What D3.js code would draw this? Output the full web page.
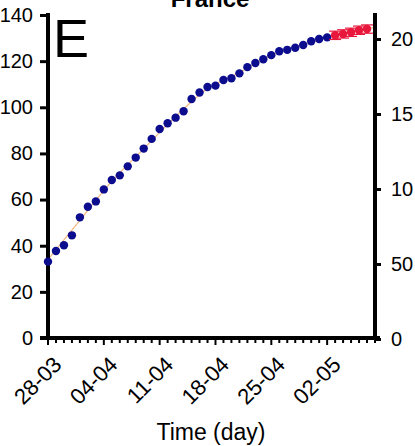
<!DOCTYPE html>
<html>
<head>
<meta charset="utf-8">
<script src="https://cdn.jsdelivr.net/npm/d3@7"></script>
<style>
  body { margin: 0; background: #fff; }
  svg { display: block; font-family: "Liberation Sans", Arial, sans-serif; }
  .axis path, .axis line { stroke: #000; }
  .axis text { fill: #000; font-size: 20px; }
</style>
</head>
<body>
<svg id="plot" width="415" height="446"></svg>
<script>
// observed cases (blue), one per day from 28-03
var obsDays = [0,1,2,3,4,5,6,7,8,9,10,11,12,13,14,15,16,17,18,19,20,21,22,23,24,25,26,27,28,29,30,31,32,33,34,35];
var obsValues = [33.1,37.7,40.2,44.5,52.3,56.9,59.2,64.4,68.5,70.5,74.4,78.2,82.1,86.3,90.6,93.1,95.5,98.3,103.6,106.4,108.8,109.4,111.8,112.6,114.7,117.4,119.2,120.8,122.6,124.3,124.9,125.8,127.0,128.6,129.6,130.3];
// predicted (red) with error
var predDays = [36,37,38,39,40];
var predValues = [131.2,131.8,132.5,133.4,133.9];
var predErr = [1.8,1.8,1.8,1.8,1.8];
// fitted curve (orange)
var fitDays = [0,4,8,12,16,20,24,28,32,36,41];
var fitValues = [34,51,68,82,96,108,115,122.5,127.2,131.2,134.6];
// ticks
var leftTicks = [0,20,40,60,80,100,120,140];
var rightTicks = [0,5,10,15,20];
var rightLabels = ['0','50','10','15','20'];
var majorDays = [0,7,14,21,28,35];
var majorLabels = ['28-03','04-04','11-04','18-04','25-04','02-05'];

var svg = d3.select('#plot');
var x = d3.scaleLinear().domain([0, 41]).range([48, 375]);
var y = d3.scaleLinear().domain([0, 140]).range([338, 15]);
var y2 = d3.scaleLinear().domain([0, 20]).range([339, 39]);

// fit line
svg.append('path')
    .datum(fitDays.map(function(d, i) { return [d, fitValues[i]]; }))
    .attr('d', d3.line().x(function(d) { return x(d[0]); }).y(function(d) { return y(d[1]); }).curve(d3.curveMonotoneX))
    .attr('fill', 'none').attr('stroke', '#f4a460').attr('stroke-width', 1.2).attr('opacity', 0.8);

// left axis
var gl = svg.append('g').attr('class', 'axis').attr('transform', 'translate(48,0)')
    .call(d3.axisLeft(y).tickValues(leftTicks).tickSize(8).tickPadding(7).tickSizeOuter(0));
gl.select('.domain').remove();
gl.selectAll('line').attr('stroke-width', 3);
svg.append('line').attr('x1', 48).attr('x2', 48).attr('y1', 13).attr('y2', 340)
    .attr('stroke', '#000').attr('stroke-width', 4);

// right axis
var gr = svg.append('g').attr('class', 'axis').attr('transform', 'translate(375,0)')
    .call(d3.axisRight(y2).tickValues(rightTicks).tickSize(6).tickPadding(10).tickSizeOuter(0)
        .tickFormat(function(d, i) { return rightLabels[i]; }));
gr.select('.domain').remove();
gr.selectAll('line').attr('stroke-width', 3);
svg.append('line').attr('x1', 375).attr('x2', 375).attr('y1', 13).attr('y2', 340)
    .attr('stroke', '#000').attr('stroke-width', 4);

// x axis
var allDays = d3.range(0, 42);
var gx = svg.append('g').attr('class', 'axis').attr('transform', 'translate(0,338)');
gx.selectAll('line.tick').data(allDays).enter().append('line')
    .attr('x1', function(d) { return x(d); }).attr('x2', function(d) { return x(d); })
    .attr('y1', 0).attr('y2', function(d) { return d % 7 === 0 ? 7 : 5; })
    .attr('stroke', '#000').attr('stroke-width', 2);
gx.append('line').attr('x1', 40).attr('x2', 380).attr('y1', 0).attr('y2', 0)
    .attr('stroke', '#000').attr('stroke-width', 4);
gx.selectAll('text').data(majorDays).enter().append('text')
    .attr('transform', function(d) { return 'translate(' + (x(d) + 15) + ',28) rotate(-45)'; })
    .attr('text-anchor', 'end')
    .style('font-size', '22px')
    .text(function(d, i) { return majorLabels[i]; });

// observed dots
svg.append('g').selectAll('circle').data(obsDays).enter().append('circle')
    .attr('cx', function(d) { return x(d); })
    .attr('cy', function(d, i) { return y(obsValues[i]); })
    .attr('r', 4.2).attr('fill', '#0c0c8e');

// predicted with error bars
var gp = svg.append('g');
predDays.forEach(function(d, i) {
    var cx = x(d), lo = y(predValues[i] - predErr[i]), hi = y(predValues[i] + predErr[i]);
    gp.append('line').attr('x1', cx).attr('x2', cx).attr('y1', lo).attr('y2', hi).attr('stroke', '#e8173c').attr('stroke-width', 1);
    gp.append('line').attr('x1', cx - 6).attr('x2', cx + 6).attr('y1', lo).attr('y2', lo).attr('stroke', '#e8173c').attr('stroke-width', 1.2);
    gp.append('line').attr('x1', cx - 6).attr('x2', cx + 6).attr('y1', hi).attr('y2', hi).attr('stroke', '#e8173c').attr('stroke-width', 1.2);
});
gp.selectAll('circle').data(predDays).enter().append('circle')
    .attr('cx', function(d) { return x(d); })
    .attr('cy', function(d, i) { return y(predValues[i]); })
    .attr('r', 4.2).attr('fill', '#e8173c');

// panel letter, title, x title
svg.append('text').attr('x', 53).attr('y', 57).attr('font-size', 54).text('E');
svg.append('text').attr('x', 210).attr('y', 7).attr('text-anchor', 'middle')
    .attr('font-size', 24).attr('font-weight', 'bold').text('France');
svg.append('text').attr('x', 211).attr('y', 440).attr('text-anchor', 'middle')
    .attr('font-size', 23).text('Time (day)');
</script>
</body>
</html>
